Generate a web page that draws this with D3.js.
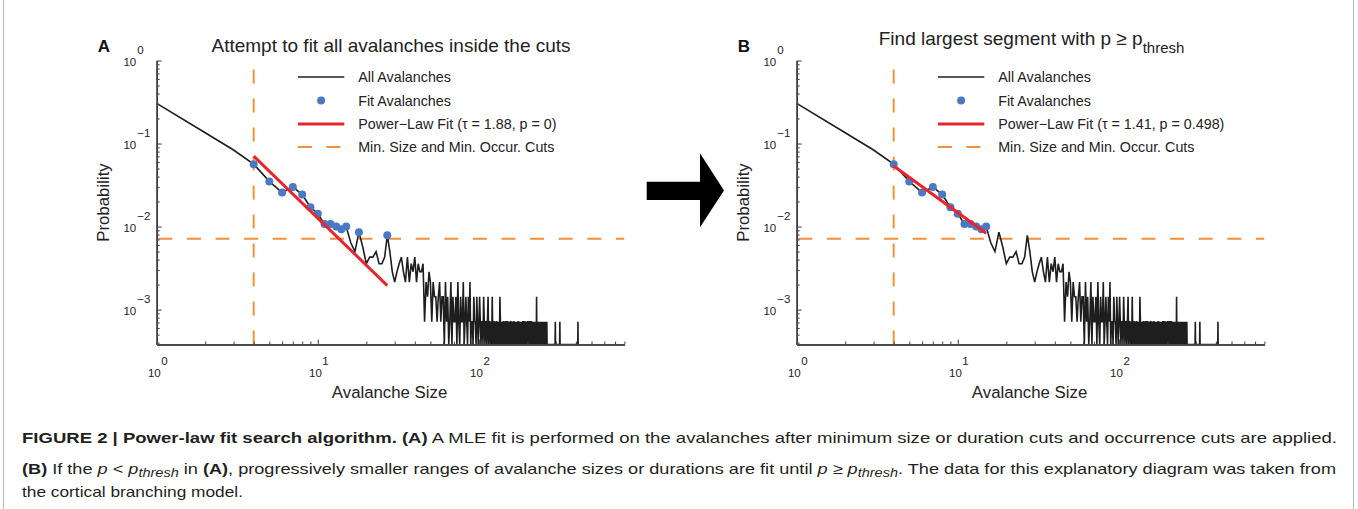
<!DOCTYPE html>
<html>
<head>
<meta charset="utf-8">
<script src="https://cdn.jsdelivr.net/npm/d3@7"></script>
<style>
  html, body { margin: 0; padding: 0; background: #ffffff; }
  svg { display: block; font-family: "Liberation Sans", Arial, Helvetica, sans-serif; }
</style>
</head>
<body>
<svg id="figure" width="1358" height="509"></svg>
<script>
// ---- data -------------------------------------------------------------
// Number of avalanches observed at each size (size = index + 1).
const avalancheCounts = [
  427, 189, 117, 79, 49, 36, 42, 34, 24, 20,      // 1-10
  15, 15, 14, 13, 14, 9, 7, 12, 8, 5,             // 11-20
  6, 6, 7, 5, 5, 6, 11, 7, 4, 3,                  // 21-30
  4, 5, 6, 4, 3, 6, 3, 5, 4, 6,                   // 31-40
  3, 5, 4, 4, 5, 1, 3, 2, 4, 3,                   // 41-50
  1, 3, 2, 2, 1, 2, 3, 1, 2, 2,                   // 51-60
  0, 3, 1, 2, 0, 1, 3, 0, 2, 1,                   // 61-70
  1, 2, 0, 3, 1, 0, 2, 1, 1, 3,                   // 71-80
  0, 1, 2, 1, 0, 2, 1, 3, 0, 1,                   // 81-90
  1, 0, 2, 1, 1, 0, 2, 1, 0, 1,                   // 91-100
  2, 1, 0, 1, 1, 0, 2, 1, 0, 1,                   // 101-110
  1, 0, 1, 2, 0, 1, 1, 0, 1, 0,                   // 111-120
  2, 0, 1, 1, 0, 1, 0, 1, 1, 0,                   // 121-130
  1, 0, 1, 0, 2, 1, 0, 1, 0, 1,                   // 131-140
  0, 1, 1, 0, 1, 0, 1, 1, 0, 1,                   // 141-150
  1, 0, 1, 0, 1, 0, 1, 1, 0, 1,                   // 151-160
  0, 1, 0, 1, 1, 0, 1, 0, 1, 0,                   // 161-170
  1, 0, 1, 0, 1, 1, 0, 1, 0, 0,                   // 171-180
  1, 0, 1, 0, 1, 0, 1, 1, 0, 1,                   // 181-190
  0, 1, 1, 0, 1, 0, 0, 1, 0, 1,                   // 191-200
  1, 0, 1, 0, 1, 1, 0, 0, 1, 0,                   // 201-210
  1, 1, 0, 0, 1, 0, 1, 0, 1, 0,                   // 211-220
  1, 0, 0, 1, 0, 1, 0, 2, 0, 1,                   // 221-230
  0, 1, 0, 0, 1, 0, 1, 0, 0, 1,                   // 231-240
  0, 1, 0, 1, 0, 0, 1, 0, 0, 1,                   // 241-250
  0, 0, 1, 0, 1, 0, 0, 1, 0, 0,                   // 251-260
  1, 0, 0, 1, 0, 0, 0, 0, 0, 0,                   // 261-270
  0, 0, 0, 0, 0, 0, 0, 0, 0, 0,                   // 271-280
  0, 0, 0, 0, 0, 0, 0, 0, 0, 0,                   // 281-290
  0, 0, 0, 0, 0, 0, 0, 1, 0, 0,                   // 291-300
  0, 0, 0, 0, 0, 0, 0, 0, 0, 0,                   // 301-310
  0, 0, 0, 0, 0, 0, 0, 1, 0, 0,                   // 311-320
  0, 0, 0, 0, 0, 0, 0, 0, 0, 0,                   // 321-330
  0, 0, 0, 0, 0, 0, 0, 0, 0, 0,                   // 331-340
  0, 0, 0, 0, 0, 0, 0, 0, 0, 0,                   // 341-350
  0, 0, 0, 0, 0, 0, 0, 0, 0, 0,                   // 351-360
  0, 0, 0, 0, 0, 0, 0, 0, 0, 0,                   // 361-370
  0, 0, 0, 0, 0, 0, 0, 0, 0, 0,                   // 371-380
  0, 0, 0, 0, 0, 0, 0, 0, 0, 0,                   // 381-390
  0, 0, 0, 0, 0, 0, 0, 0, 0, 0,                   // 391-400
  0, 0, 0, 0, 0, 0, 0, 0, 0, 0,                   // 401-410
  0, 1, 0, 0, 0                                   // 411-415
];
const totalAvalanches = 1400;

// cuts applied before fitting
const minSizeCut = 4;          // avalanche size
const minOccurrenceCut = 10;   // avalanches per size

// axes
const xDomain = [1, 800];
const yDomain = [3.8e-4, 1];
const xTickExponents = [0, 1, 2];
const yTickExponents = [0, -1, -2, -3];
const xAxisTitle = "Avalanche Size";
const yAxisTitle = "Probability";

// panels
const panelLetters = ["A", "B"];
const fitTau = [1.88, 1.41];
const fitPValue = ["0", "0.498"];
const fitMaxSize = [27, 15];
const fitStartProbability = [0.0706, 0.0536];

// caption
const captionLines = [
  [
    { t: "FIGURE 2 | Power-law fit search algorithm. (A)", b: true },
    { t: " A MLE fit is performed on the avalanches after minimum size or duration cuts and occurrence cuts are applied." }
  ],
  [
    { t: "(B)", b: true },
    { t: " If the " }, { t: "p", i: true }, { t: " < " }, { t: "p", i: true },
    { t: "thresh", i: true, sub: true }, { t: " in " }, { t: "(A)", b: true },
    { t: ", progressively smaller ranges of avalanche sizes or durations are fit until " },
    { t: "p", i: true }, { t: " \u2265 " }, { t: "p", i: true }, { t: "thresh", i: true, sub: true },
    { t: ". The data for this explanatory diagram was taken from" }
  ],
  [
    { t: "the cortical branching model." }
  ]
];

// ---- colours & geometry ------------------------------------------------
const COLORS = {
  data: "#1e1e1e",
  dots: "#4a78c2",
  fit: "#e8252b",
  cut: "#f5913e",
  axis: "#3f3f3f",
  text: "#222222"
};

const svg = d3.select("#figure");
const plotW = 467.7, plotH = 284;      // plot area size
const panelX = [156.7, 796.7];         // left edge of each plot area
const plotTop = 60.5;

const sizes = d3.range(1, avalancheCounts.length + 1);
const series = sizes.map((s, i) => ({ s, c: avalancheCounts[i], p: avalancheCounts[i] / totalAvalanches }));
const cutProbability = minOccurrenceCut / totalAvalanches;

// figure frame
svg.append("rect").attr("x", 3.5).attr("y", -2).attr("width", 1350).attr("height", 520)
  .attr("fill", "none").attr("stroke", "#b9b9b9").attr("stroke-width", 1);

function drawPanel(k) {
  const g = svg.append("g").attr("transform", `translate(${panelX[k]},${plotTop})`);
  const x = d3.scaleLog().domain(xDomain).range([0, plotW]);
  const y = d3.scaleLog().domain(yDomain).range([plotH, 0]);

  const clipId = "clip" + k;
  g.append("clipPath").attr("id", clipId).append("rect")
    .attr("x", 0).attr("y", 0).attr("width", plotW).attr("height", plotH);
  const plot = g.append("g").attr("clip-path", `url(#${clipId})`);

  // cut lines (vertical one dashed upward from the size axis)
  plot.append("line")
    .attr("x1", x(minSizeCut)).attr("x2", x(minSizeCut))
    .attr("y1", plotH).attr("y2", 0)
    .attr("stroke", COLORS.cut).attr("stroke-width", 2).attr("stroke-dasharray", "14,15");
  plot.append("line")
    .attr("x1", 1.6).attr("x2", plotW)
    .attr("y1", y(cutProbability)).attr("y2", y(cutProbability))
    .attr("stroke", COLORS.cut).attr("stroke-width", 2).attr("stroke-dasharray", "14,14.6");

  // all avalanches
  const line = d3.line()
    .x(d => x(d.s))
    .y(d => y(Math.max(d.p, yDomain[0])));
  plot.append("path").datum(series)
    .attr("d", line).attr("fill", "none")
    .attr("stroke", COLORS.data).attr("stroke-width", 1.6).attr("stroke-linejoin", "miter");

  // fitted avalanches
  const fitPts = series.filter(d => d.s >= minSizeCut && d.s <= fitMaxSize[k] && d.c >= minOccurrenceCut);
  plot.selectAll("circle.fit").data(fitPts).join("circle")
    .attr("class", "fit")
    .attr("cx", d => x(d.s)).attr("cy", d => y(d.p)).attr("r", 4)
    .attr("fill", COLORS.dots);

  // power-law fit
  const tau = fitTau[k];
  const fitLine = [minSizeCut, fitMaxSize[k]].map(s => ({
    s, p: fitStartProbability[k] * Math.pow(s / minSizeCut, -tau)
  }));
  plot.append("path").datum(fitLine)
    .attr("d", d3.line().x(d => x(d.s)).y(d => y(d.p)))
    .attr("fill", "none").attr("stroke", COLORS.fit).attr("stroke-width", 3);

  // axes (ticks point inward)
  const isDecade = v => Math.abs(Math.log10(v) - Math.round(Math.log10(v))) < 1e-9;
  const majorX = xTickExponents.map(e => Math.pow(10, e));
  const minorX = x.ticks().filter(v => !isDecade(v));
  const majorY = yTickExponents.map(e => Math.pow(10, e));
  const minorY = y.ticks().filter(v => !isDecade(v));

  const axisStyle = sel => {
    sel.select(".domain").attr("stroke", COLORS.axis).attr("stroke-width", 1.5);
    sel.selectAll(".tick line").attr("stroke", COLORS.axis).attr("stroke-width", 1);
    sel.selectAll(".tick text").remove();
  };
  g.append("g").attr("transform", `translate(0,${plotH})`)
    .call(d3.axisBottom(x).tickValues(minorX).tickSizeInner(-3).tickSizeOuter(0).tickFormat(""))
    .call(axisStyle);
  g.append("g").attr("transform", `translate(0,${plotH})`)
    .call(d3.axisBottom(x).tickValues(majorX).tickSizeInner(-5).tickSizeOuter(0).tickFormat(""))
    .call(axisStyle);
  g.append("g")
    .call(d3.axisLeft(y).tickValues(minorY).tickSizeInner(-3).tickSizeOuter(0).tickFormat(""))
    .call(axisStyle);
  g.append("g")
    .call(d3.axisLeft(y).tickValues(majorY).tickSizeInner(-5).tickSizeOuter(0).tickFormat(""))
    .call(axisStyle);

  // tick labels with superscript exponents
  const sup = e => String(e).replace("-", "\u2212");
  xTickExponents.forEach(e => {
    const px = x(Math.pow(10, e));
    g.append("text").attr("x", px + 4).attr("y", plotH + 32.5)
      .attr("text-anchor", "end").attr("font-size", 11.5).attr("fill", COLORS.text).text("10");
    g.append("text").attr("x", px + 4.5).attr("y", plotH + 20.5)
      .attr("text-anchor", "start").attr("font-size", 11.5).attr("fill", COLORS.text).text(sup(e));
  });
  yTickExponents.forEach(e => {
    const py = y(Math.pow(10, e));
    g.append("text").attr("x", -20.5).attr("y", py + 5)
      .attr("text-anchor", "end").attr("font-size", 11.5).attr("fill", COLORS.text).text("10");
    g.append("text").attr("x", -19.5).attr("y", py - 6.5)
      .attr("text-anchor", "start").attr("font-size", 11.5).attr("fill", COLORS.text).text(sup(e));
  });

  // axis titles
  g.append("text").attr("x", plotW / 2 - 1).attr("y", plotH + 53.5)
    .attr("text-anchor", "middle").attr("font-size", 16.8).attr("fill", COLORS.text).text(xAxisTitle);
  g.append("text").attr("transform", `translate(${-48},${142}) rotate(-90)`)
    .attr("text-anchor", "middle").attr("font-size", 16.8).attr("fill", COLORS.text).text(yAxisTitle);

  // panel letter
  g.append("text").attr("x", -59).attr("y", -9)
    .attr("font-size", 17).attr("font-weight", "bold").attr("fill", "#111").text(panelLetters[k]);

  // title
  if (k === 0) {
    g.append("text").attr("x", plotW / 2 + 0.5).attr("y", -9)
      .attr("text-anchor", "middle").attr("font-size", 19).attr("fill", COLORS.text)
      .text("Attempt to fit all avalanches inside the cuts");
  } else {
    const t = g.append("text").attr("x", plotW / 2 + 1).attr("y", -15.5)
      .attr("text-anchor", "middle").attr("font-size", 19).attr("fill", COLORS.text);
    t.append("tspan").text("Find largest segment with p \u2265 p");
    t.append("tspan").attr("dy", 8).attr("font-size", 15).text("thresh");
  }

  // legend
  const lx0 = 141.2, lx1 = 187.6, ltx = 201.5;
  const rows = [16.5, 40, 63.5, 86.5];
  const labels = [
    "All Avalanches",
    "Fit Avalanches",
    `Power\u2212Law Fit (\u03c4 = ${fitTau[k].toFixed(2)}, p = ${fitPValue[k]})`,
    "Min. Size and Min. Occur. Cuts"
  ];
  const lg = g.append("g");
  lg.append("line").attr("x1", lx0).attr("x2", lx1).attr("y1", rows[0]).attr("y2", rows[0])
    .attr("stroke", COLORS.data).attr("stroke-width", 1.6);
  lg.append("circle").attr("cx", (lx0 + lx1) / 2).attr("cy", rows[1]).attr("r", 4).attr("fill", COLORS.dots);
  lg.append("line").attr("x1", lx0).attr("x2", lx1).attr("y1", rows[2]).attr("y2", rows[2])
    .attr("stroke", COLORS.fit).attr("stroke-width", 3);
  lg.append("line").attr("x1", lx0).attr("x2", lx1).attr("y1", rows[3]).attr("y2", rows[3])
    .attr("stroke", COLORS.cut).attr("stroke-width", 2).attr("stroke-dasharray", "14,14.5");
  labels.forEach((lab, i) => {
    lg.append("text").attr("x", ltx).attr("y", rows[i] + 5)
      .attr("font-size", 14.3).attr("fill", COLORS.text).text(lab);
  });
}

drawPanel(0);
drawPanel(1);

// arrow between panels
const arrowPts = [[646.7, 181.7], [700, 181.7], [700, 153.3], [724, 190.5], [700, 227.3], [700, 200], [646.7, 200]];
svg.append("path").attr("d", d3.line()(arrowPts) + "Z").attr("fill", "#000");

// caption
const capY = [443, 474, 497];
const capLen = [1315, 1314, 221];
captionLines.forEach((parts, li) => {
  const t = svg.append("text").attr("x", 22).attr("y", capY[li])
    .attr("font-size", 15).attr("fill", "#231f20")
    .attr("textLength", capLen[li]).attr("lengthAdjust", "spacingAndGlyphs");
  let inSub = false;
  parts.forEach(p => {
    const ts = t.append("tspan").text(p.t);
    if (p.b) ts.attr("font-weight", "bold");
    if (p.i) ts.attr("font-style", "italic");
    if (p.sub && !inSub) { ts.attr("dy", 3).attr("font-size", 12); inSub = true; }
    else if (!p.sub && inSub) { ts.attr("dy", -3); inSub = false; }
  });
});
</script>
</body>
</html>
